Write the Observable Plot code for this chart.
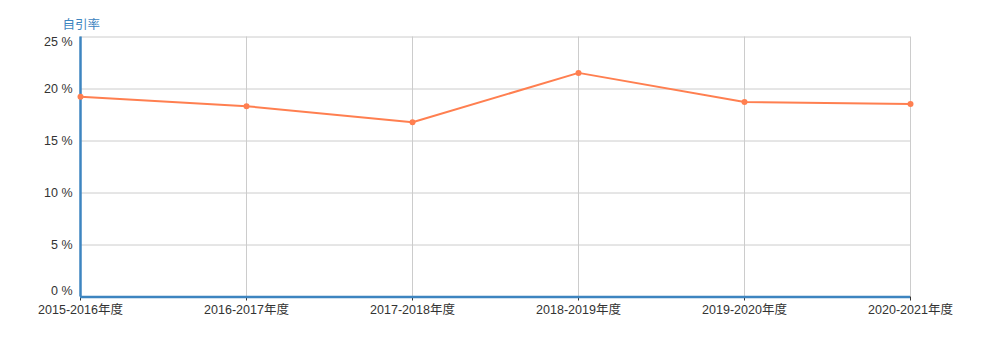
<!DOCTYPE html>
<html>
<head>
<meta charset="utf-8">
<script src="https://cdn.jsdelivr.net/npm/d3@7"></script>
<script src="https://cdn.jsdelivr.net/npm/@observablehq/plot@0.6"></script>
<style>
  html, body { margin: 0; padding: 0; background: #fff; }
  #chart svg { display: block; }
</style>
</head>
<body>
<div id="chart"></div>
<script>
const years = ["2015-2016年度", "2016-2017年度", "2017-2018年度", "2018-2019年度", "2019-2020年度", "2020-2021年度"];
const selfCitationRate = [19.25, 18.35, 16.8, 21.55, 18.75, 18.55];
const yTicks = [0, 5, 10, 15, 20, 25];
const yTitle = "自引率";

const data = years.map((y, i) => ({year: y, value: selfCitationRate[i]}));
const axisBlue = "#3d85c0";
const lineColor = "#ff7f50";
const font = "'Liberation Sans', 'Noto Sans CJK SC', sans-serif";
const fmt = d => d + " %";
const yAxisCommon = {tickFormat: fmt, tickSize: 0, tickPadding: 8, fill: "#333", fontSize: 12.5, label: null};

const chart = Plot.plot({
  width: 989,
  height: 355,
  marginLeft: 80,
  marginRight: 79,
  marginTop: 36.5,
  marginBottom: 58.5,
  style: {fontFamily: font, fontSize: "12.5px", color: "#333", background: "#fff"},
  x: {type: "point", domain: years, padding: 0, label: null},
  y: {domain: [0, 25], label: null},
  marks: [
    Plot.ruleY(yTicks, {stroke: "#ccc", strokeWidth: 1}),
    Plot.ruleX(years, {stroke: "#ccc", strokeWidth: 1}),
    Plot.axisY({...yAxisCommon, ticks: yTicks.filter(t => t !== 0 && t !== 25)}),
    Plot.axisY({...yAxisCommon, ticks: [25], dy: 5}),
    Plot.axisY({...yAxisCommon, ticks: [0], dy: -6}),
    Plot.axisX({tickSize: 4, tickPadding: 4, stroke: "#333", fill: "#333", fontSize: 12.5, label: null}),
    Plot.ruleY([0], {stroke: axisBlue, strokeWidth: 2.5}),
    Plot.ruleX([years[0]], {stroke: axisBlue, strokeWidth: 2.5}),
    Plot.line(data, {x: "year", y: "value", stroke: lineColor, strokeWidth: 2}),
    Plot.dot(data, {x: "year", y: "value", fill: lineColor, r: 3}),
    Plot.text([yTitle], {frameAnchor: "top-left", dx: -18, dy: -17, text: d => d, fill: axisBlue, fontSize: 12.5, textAnchor: "start"})
  ]
});
document.getElementById("chart").appendChild(chart);
</script>
</body>
</html>
